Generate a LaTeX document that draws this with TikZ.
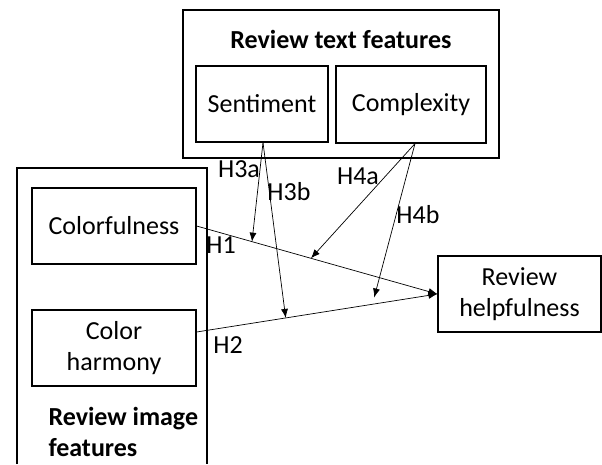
\documentclass[tikz,border=0pt]{standalone}
\usepackage{fontspec}
\setmainfont{Carlito}
\usetikzlibrary{arrows.meta}
\begin{document}
\begin{tikzpicture}
    [ x=1pt, y=-1pt,
      font=\fontsize{26}{31}\selectfont,
      var-node/.style = {
        shape=rectangle, draw, align=center,
        line width=1.2pt, inner sep=0pt
      },
      group-node/.style = {
        shape=rectangle, draw, line width=1.2pt, inner sep=0pt
      },
      title/.style = {font=\fontsize{26}{31}\selectfont\bfseries, align=left},
      txt/.style = {inner sep=0pt},
      effect/.style = {-{Latex[length=9pt,width=7pt]}, line width=0.7pt}]
      \useasboundingbox (0,0) rectangle (602,464);
      \node [group-node, minimum width=316pt, minimum height=148pt] (textgroup) at (341,84) {};
      \node [title, anchor=base] (texttitle) at (341,48) {Review text features};
      \node [var-node, minimum width=132pt, minimum height=76pt] (sentiment) at (262,104) {Sentiment};
      \node [var-node, minimum width=150pt, minimum height=77pt] (complexity) at (411,104.5) {Complexity};
      \draw [line width=1.2pt] (17,464) -- (17,168) -- (207,168) -- (207,464);
      \node [var-node, minimum width=164pt, minimum height=76pt] (colorfulness) at (114,226) {Colorfulness};
      \node [var-node, minimum width=164pt, minimum height=76pt] (harmony) at (114,348) {Color\\harmony};
      \node [title, anchor=base west] (imagetitle) at (45,456) {Review image\\features};
      \node [var-node, minimum width=163pt, minimum height=76pt] (helpfulness) at (519.5,294) {Review\\helpfulness};
      \draw [effect] (colorfulness.east) -- (helpfulness.west)
        coordinate [pos=0.23] (h3a-end)
        coordinate [pos=0.475] (h4a-end);
      \draw [effect] ([yshift=16pt]harmony.east) -- (helpfulness.west)
        coordinate [pos=0.37] (h3b-end)
        coordinate [pos=0.73] (h4b-end);
      \draw [effect] ([xshift=1pt]sentiment.south) -- (h3a-end);
      \draw [effect] ([xshift=1pt]sentiment.south) -- (h3b-end);
      \draw [effect] ([xshift=4pt]complexity.south) -- (h4a-end);
      \draw [effect, shorten >=7pt] ([xshift=4pt]complexity.south) -- (h4b-end);
      \node [txt] (h1) at (221,245) {H1};
      \node [txt] (h2) at (228,345) {H2};
      \node [txt] (h3a) at (239,169) {H3a};
      \node [txt] (h3b) at (289,192) {H3b};
      \node [txt] (h4a) at (358,176) {H4a};
      \node [txt] (h4b) at (418,215) {H4b};
  \end{tikzpicture}
\end{document}
